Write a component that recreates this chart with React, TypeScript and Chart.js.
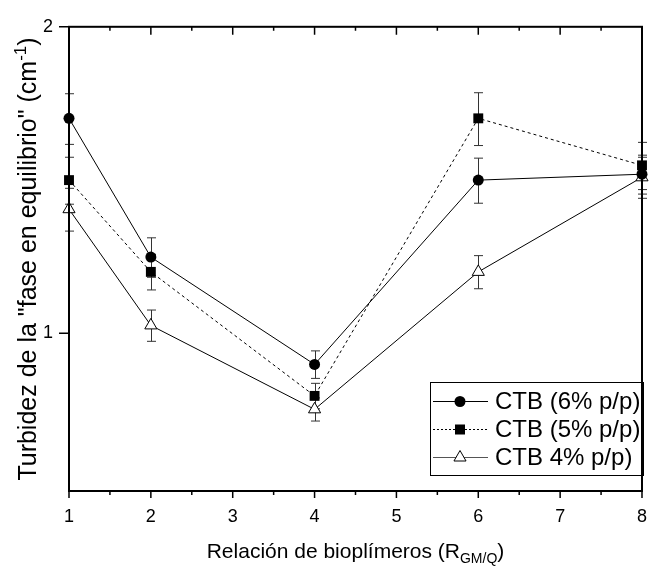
import React, { useEffect, useRef } from 'react';
import { Chart, registerables } from 'chart.js';
Chart.register(...registerables);

const xValues = [1, 2, 4, 6, 8];
const ctb6 = [1.626, 1.188, 0.932, 1.414, 1.433];
const ctb6Err = [0.093, 0.053, 0.029, 0.072, 0.063];
const ctb5 = [1.414, 1.149, 0.868, 1.626, 1.462];
const ctb5Err = [0.075, 0.046, 0.025, 0.097, 0.078];
const ctb4 = [1.324, 1.018, 0.842, 1.149, 1.423];
const ctb4Err = [0.064, 0.036, 0.022, 0.043, 0.066];
const seriesLabels = ['CTB (6% p/p)', 'CTB (5% p/p)', 'CTB 4% p/p)'];
const xTicks = [1, 2, 3, 4, 5, 6, 7, 8];
const xMinorTicks = [1.5, 2.5, 3.5, 4.5, 5.5, 6.5, 7.5];
const yTicks = [1, 2];
const yTitleMain = 'Turbidez de la "fase en equilibrio" (cm';
const yTitleSup = '-1';
const yTitleEnd = ')';
const xTitleMain = 'Relación de bioplímeros (R';
const xTitleSub = 'GM/Q';
const xTitleEnd = ')';

const FONT = 'Arial, "Liberation Sans", sans-serif';
const errors = [ctb6Err, ctb5Err, ctb4Err];

function drawMarker(ctx: CanvasRenderingContext2D, style: string, x: number, y: number) {
  ctx.save();
  ctx.lineWidth = 1;
  ctx.strokeStyle = '#000';
  if (style === 'circle') {
    ctx.beginPath();
    ctx.arc(x, y, 5.5, 0, Math.PI * 2);
    ctx.fillStyle = '#000';
    ctx.fill();
  } else if (style === 'rect') {
    ctx.fillStyle = '#000';
    ctx.fillRect(x - 5, y - 5, 10, 10);
  } else {
    const r = 7;
    ctx.beginPath();
    ctx.moveTo(x, y - r);
    ctx.lineTo(x + r * Math.cos(Math.PI / 6), y + r / 2);
    ctx.lineTo(x - r * Math.cos(Math.PI / 6), y + r / 2);
    ctx.closePath();
    ctx.fillStyle = '#fff';
    ctx.fill();
    ctx.stroke();
  }
  ctx.restore();
}

const decorPlugin = {
  id: 'decor',
  beforeDatasetsDraw(chart: any) {
    const ctx = chart.ctx as CanvasRenderingContext2D;
    const xs = chart.scales.x;
    const ys = chart.scales.y;
    ctx.save();
    ctx.strokeStyle = '#333';
    ctx.lineWidth = 1;
    chart.data.datasets.forEach((ds: any, i: number) => {
      const errs = errors[i];
      ds.data.forEach((p: any, j: number) => {
        const px = Math.round(xs.getPixelForValue(p.x)) + 0.5;
        const top = ys.getPixelForValue(p.y + errs[j]);
        const bot = ys.getPixelForValue(p.y - errs[j]);
        ctx.beginPath();
        ctx.moveTo(px, top);
        ctx.lineTo(px, bot);
        ctx.moveTo(px - 4.5, top);
        ctx.lineTo(px + 4.5, top);
        ctx.moveTo(px - 4.5, bot);
        ctx.lineTo(px + 4.5, bot);
        ctx.stroke();
      });
    });
    ctx.restore();
  },
  afterDraw(chart: any) {
    const ctx = chart.ctx as CanvasRenderingContext2D;
    const xs = chart.scales.x;
    const ys = chart.scales.y;
    const a = chart.chartArea;
    ctx.save();
    ctx.strokeStyle = '#000';
    ctx.lineWidth = 2;
    ctx.strokeRect(a.left, a.top, a.right - a.left, a.bottom - a.top);
    ctx.lineWidth = 1.5;
    ctx.beginPath();
    xTicks.forEach((v) => {
      const px = xs.getPixelForValue(v);
      ctx.moveTo(px, a.bottom);
      ctx.lineTo(px, a.bottom + 7);
      ctx.moveTo(px, a.top);
      ctx.lineTo(px, a.top + 8);
    });
    xMinorTicks.forEach((v) => {
      const px = xs.getPixelForValue(v);
      ctx.moveTo(px, a.bottom);
      ctx.lineTo(px, a.bottom + 4);
      ctx.moveTo(px, a.top);
      ctx.lineTo(px, a.top + 4);
    });
    yTicks.forEach((v) => {
      const py = ys.getPixelForValue(v);
      ctx.moveTo(a.left - 10, py);
      ctx.lineTo(a.left, py);
    });
    ctx.stroke();

    // Titles
    ctx.fillStyle = '#000';
    ctx.textBaseline = 'alphabetic';
    // X title
    const xf = 21;
    const xsf = 14;
    ctx.font = `${xf}px ${FONT}`;
    const w1 = ctx.measureText(xTitleMain).width;
    const w3 = ctx.measureText(xTitleEnd).width;
    ctx.font = `${xsf}px ${FONT}`;
    const w2 = ctx.measureText(xTitleSub).width;
    const xc = (a.left + a.right) / 2;
    const sx = xc - (w1 + w2 + w3) / 2;
    const xb = 558;
    ctx.font = `${xf}px ${FONT}`;
    ctx.fillText(xTitleMain, sx, xb);
    ctx.font = `${xsf}px ${FONT}`;
    ctx.fillText(xTitleSub, sx + w1, xb + 5);
    ctx.font = `${xf}px ${FONT}`;
    ctx.fillText(xTitleEnd, sx + w1 + w2, xb);

    // Y title
    const yf = 25;
    const ysf = 17;
    ctx.font = `${yf}px ${FONT}`;
    const v1 = ctx.measureText(yTitleMain).width;
    const v3 = ctx.measureText(yTitleEnd).width;
    ctx.font = `${ysf}px ${FONT}`;
    const v2 = ctx.measureText(yTitleSup).width;
    const yc = 259;
    ctx.save();
    ctx.translate(36, yc);
    ctx.rotate(-Math.PI / 2);
    const tx = -(v1 + v2 + v3) / 2;
    ctx.font = `${yf}px ${FONT}`;
    ctx.fillText(yTitleMain, tx, 0);
    ctx.font = `${ysf}px ${FONT}`;
    ctx.fillText(yTitleSup, tx + v1, -10);
    ctx.font = `${yf}px ${FONT}`;
    ctx.fillText(yTitleEnd, tx + v1 + v2, 0);
    ctx.restore();

    // Legend
    const lx = 430, ly = 382, lw = 213, lh = 93;
    ctx.lineWidth = 1;
    ctx.strokeStyle = '#000';
    ctx.strokeRect(lx + 0.5, ly + 0.5, lw, lh);
    const rows = [401, 429, 457];
    const styles = ['circle', 'rect', 'triangle'];
    ctx.font = `24px ${FONT}`;
    ctx.textBaseline = 'middle';
    seriesLabels.forEach((lab, i) => {
      const y = rows[i] + 0.5;
      ctx.save();
      ctx.lineWidth = 1;
      ctx.strokeStyle = i === 2 ? '#555' : '#000';
      if (i === 1) ctx.setLineDash([2, 2]);
      ctx.beginPath();
      ctx.moveTo(433, y);
      ctx.lineTo(488, y);
      ctx.stroke();
      ctx.restore();
      drawMarker(ctx, styles[i], 460, y);
      ctx.fillStyle = '#000';
      ctx.fillText(lab, 495, rows[i] + 1);
    });
    ctx.restore();
  },
};

export default function App() {
  const ref = useRef<HTMLCanvasElement>(null);
  useEffect(() => {
    document.body.style.margin = '0';
    const mk = (ys: number[]) => xValues.map((x, i) => ({ x, y: ys[i] }));
    const chart = new Chart(ref.current as HTMLCanvasElement, {
      type: 'line',
      data: {
        datasets: [
          {
            label: seriesLabels[0], data: mk(ctb6), borderColor: '#000', borderWidth: 1,
            pointStyle: 'circle', pointRadius: 5.5, pointBackgroundColor: '#000', pointBorderColor: '#000',
            pointBorderWidth: 0, clip: false, tension: 0,
          },
          {
            label: seriesLabels[1], data: mk(ctb5), borderColor: '#000', borderWidth: 1, borderDash: [3, 3],
            pointStyle: 'rect', pointRadius: 7, pointBackgroundColor: '#000', pointBorderColor: '#000',
            pointBorderWidth: 0, clip: false, tension: 0,
          },
          {
            label: seriesLabels[2], data: mk(ctb4), borderColor: '#000', borderWidth: 1,
            pointStyle: 'triangle', pointRadius: 7, pointBackgroundColor: '#fff', pointBorderColor: '#000',
            pointBorderWidth: 1, clip: false, tension: 0,
          },
        ] as any,
      },
      options: {
        animation: false,
        responsive: false,
        layout: { padding: { top: 19, right: 8, left: 0, bottom: 0 } },
        plugins: { legend: { display: false }, tooltip: { enabled: false } },
        scales: {
          x: {
            type: 'linear', min: 1, max: 8,
            afterBuildTicks: (s: any) => { s.ticks = xTicks.map((v) => ({ value: v })); },
            afterFit: (s: any) => { s.height = 75; },
            grid: { display: false, drawTicks: false },
            border: { display: false },
            ticks: { color: '#000', font: { family: FONT, size: 18 }, padding: 15, maxRotation: 0 },
          },
          y: {
            type: 'logarithmic', min: 0.7, max: 2,
            afterBuildTicks: (s: any) => { s.ticks = yTicks.map((v) => ({ value: v })); },
            afterFit: (s: any) => { s.width = 69; },
            grid: { display: false, drawTicks: false },
            border: { display: false },
            ticks: { color: '#000', font: { family: FONT, size: 18 }, padding: 16, callback: (v: any) => String(v) },
          },
        } as any,
      },
      plugins: [decorPlugin],
    });
    return () => chart.destroy();
  }, []);
  return <canvas ref={ref} width={662} height={566} style={{ width: 662, height: 566, display: 'block' }} />;
}
